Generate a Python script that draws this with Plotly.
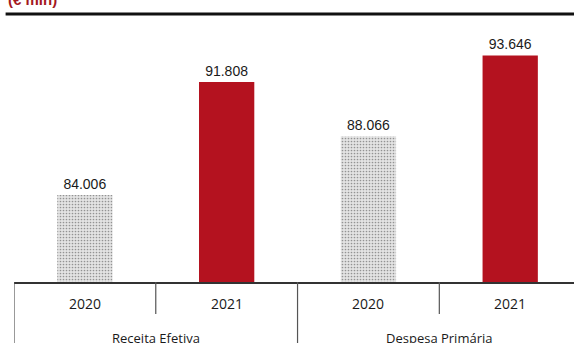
import plotly.graph_objects as go

# Budget aggregates, € million
groups = ["Receita Efetiva", "Receita Efetiva", "Despesa Primária", "Despesa Primária"]
years = ["2020", "2021", "2020", "2021"]
values = [84006, 91808, 88066, 93646]
labels = ["84.006", "91.808", "88.066", "93.646"]
bar_colors = ["#e3e3e3", "#b4121f", "#e3e3e3", "#b4121f"]
unit_title = "(€ mln)"

x_keys = [f"{g} {y}" for g, y in zip(groups, years)]

fig = go.Figure()
fig.add_trace(go.Bar(
    x=x_keys,
    y=values,
    width=0.39,
    marker=dict(
        color=bar_colors,
        line=dict(width=0),
        pattern=dict(
            shape=["." if c == "#e3e3e3" else "" for c in bar_colors],
            fgcolor="#d0d0d0",
            size=3,
            solidity=0.25,
        ),
    ),
    text=labels,
    textposition="outside",
    textfont=dict(family="Liberation Sans, Arial, sans-serif", size=14, color="#1a1a1a"),
    cliponaxis=False,
    hoverinfo="skip",
))

PLOT_H = 262  # px height of plot area
def py(pixel_from_axis):
    return -pixel_from_axis / PLOT_H

# year labels under each bar
for k, yr in zip(x_keys, years):
    fig.add_annotation(x=k, y=py(21), xref="x", yref="paper", text=yr,
                       showarrow=False, yanchor="middle",
                       font=dict(family="Open Sans, sans-serif", size=14, color="#1a1a1a"))

# group labels centred under each pair
group_names = list(dict.fromkeys(groups))
for i, g in enumerate(group_names):
    fig.add_annotation(x=2 * i + 0.5, y=py(56), xref="x", yref="paper", text=g,
                       showarrow=False, yanchor="middle",
                       font=dict(family="Open Sans, sans-serif", size=13, color="#1a1a1a"))

# table dividers below the axis
line_style = dict(color="#555", width=1.2)
for i in range(len(x_keys)):
    bottom = py(70) if i % 2 == 0 else py(32)
    fig.add_shape(type="line", xref="x", yref="paper", x0=i - 0.5, x1=i - 0.5,
                  y0=0, y1=bottom, line=line_style)

# heading rule and unit title
fig.add_shape(type="line", xref="paper", yref="paper", x0=-0.015, x1=1.0,
              y0=1.023, y1=1.023, line=dict(color="#111", width=3))
fig.add_annotation(x=-0.015, y=1.04, xref="paper", yref="paper", text=f"<b>{unit_title}</b>",
                   showarrow=False, xanchor="left", yanchor="bottom",
                   font=dict(family="Liberation Sans, Arial, sans-serif", size=15, color="#a3191f"))

fig.update_layout(
    width=574, height=343,
    margin=dict(l=14, r=0, t=20, b=61),
    paper_bgcolor="white", plot_bgcolor="white",
    showlegend=False,
    xaxis=dict(type="category", range=[-0.5, 3.45], showticklabels=False,
               showline=True, linecolor="#333", linewidth=1.5, showgrid=False,
               zeroline=False, ticks=""),
    yaxis=dict(range=[78000, 96090], visible=False, showgrid=False, zeroline=False),
)

fig.write_html("out.html")
